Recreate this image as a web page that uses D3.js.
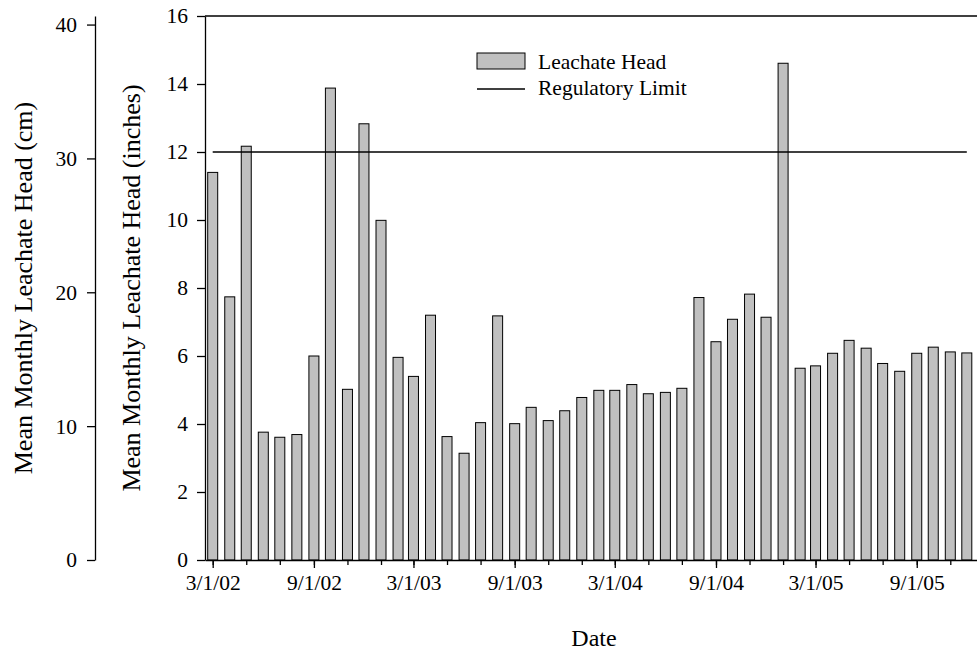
<!DOCTYPE html>
<html lang="en">
<head>
    <meta charset="UTF-8">
    <title>Mean Monthly Leachate Head</title>
    <script src="https://d3js.org/d3.v7.min.js"></script>
    <style>
        body { margin: 0; background: #fff; }
        text { font-family: "Liberation Serif", "Times New Roman", serif; fill: #000; }
        .axis path, .axis line { stroke: #000; stroke-width: 1.3; }
    </style>
</head>
<body>
    <script>
        // monthly means, 3/1/02 .. 12/1/05 (inches)
        const startMonth = [2002, 2];   // year, month index (March)
        const headInches = [
            11.40, 7.74, 12.17, 3.76, 3.61, 3.69, 6.00, 13.88, 5.02, 12.83,
            9.99, 5.96, 5.40, 7.20, 3.63, 3.14, 4.04, 7.18, 4.01, 4.49, 4.10, 4.39,
            4.78, 4.99, 4.99, 5.16, 4.89, 4.93, 5.05, 7.72, 6.42, 7.08, 7.82, 7.14,
            14.61, 5.64, 5.71, 6.08, 6.46, 6.23, 5.78, 5.55, 6.08, 6.26, 6.12, 6.09
        ];
        const regulatoryLimit = 12;
        const inchTicks = [0, 2, 4, 6, 8, 10, 12, 14, 16];
        const cmTicks = [0, 10, 20, 30, 40];
        const majorTicks = ["2002-03-01", "2002-09-01", "2003-03-01", "2003-09-01",
                            "2004-03-01", "2004-09-01", "2005-03-01", "2005-09-01"];

        const data = headInches.map((v, i) => ({
            date: new Date(Date.UTC(startMonth[0], startMonth[1] + i, 1)),
            value: v
        }));

        const w = 977;
        const h = 651;
        const plotLeft = 205, plotRight = 983.3, plotTop = 16, plotBottom = 560;
        const labelSize = 21.5;

        const svg = d3.select("body")
                      .append("svg")
                      .attr("width", w)
                      .attr("height", h);

        const x = d3.scaleUtc()
                    .domain([new Date(Date.UTC(2002, 1, 15)), new Date(Date.UTC(2005, 11, 31))])
                    .range([plotLeft, plotRight]);

        const y = d3.scaleLinear()
                    .domain([0, 16])
                    .range([plotBottom, plotTop]);

        // same height expressed in cm
        const yCm = d3.scaleLinear()
                      .domain([0, 16 * 2.54])
                      .range([plotBottom, plotTop]);

        // bars
        svg.selectAll("rect.bar")
           .data(data)
           .enter()
           .append("rect")
           .attr("class", "bar")
           .attr("x", d => x(d.date) - 5)
           .attr("y", d => y(d.value))
           .attr("width", 10)
           .attr("height", d => plotBottom - y(d.value))
           .attr("fill", "#c0c0c0")
           .attr("stroke", "#000")
           .attr("stroke-width", 1);

        // regulatory limit
        svg.append("line")
           .attr("x1", x(data[0].date))
           .attr("x2", x(data[data.length - 1].date))
           .attr("y1", y(regulatoryLimit))
           .attr("y2", y(regulatoryLimit))
           .attr("stroke", "#000")
           .attr("stroke-width", 1.3);

        // top frame
        svg.append("line")
           .attr("x1", plotLeft).attr("x2", plotRight)
           .attr("y1", plotTop).attr("y2", plotTop)
           .attr("stroke", "#000")
           .attr("stroke-width", 1.3);

        // x axis: minor ticks every 2 months, labelled ticks every 6
        svg.append("g")
           .attr("class", "axis")
           .attr("transform", "translate(0," + plotBottom + ")")
           .call(d3.axisBottom(x)
                   .ticks(d3.utcMonth.every(2))
                   .tickSize(5)
                   .tickSizeOuter(0)
                   .tickFormat(""));

        const fmt = d3.utcFormat("%-m/%-d/%y");
        svg.append("g")
           .attr("class", "axis")
           .attr("transform", "translate(0," + plotBottom + ")")
           .call(d3.axisBottom(x)
                   .tickValues(majorTicks.map(s => new Date(s + "T00:00:00Z")))
                   .tickSize(8)
                   .tickSizeOuter(0)
                   .tickPadding(7)
                   .tickFormat(fmt))
           .call(g => g.select(".domain").remove())
           .selectAll("text")
           .attr("font-size", labelSize)
           .attr("font-family", "Liberation Serif");

        // inches axis
        svg.append("g")
           .attr("class", "axis")
           .attr("transform", "translate(" + plotLeft + ",0)")
           .call(d3.axisLeft(y)
                   .tickValues(inchTicks)
                   .tickSize(8)
                   .tickSizeOuter(0)
                   .tickPadding(9))
           .selectAll("text")
           .attr("font-size", labelSize)
           .attr("font-family", "Liberation Serif");

        // cm axis
        svg.append("g")
           .attr("class", "axis")
           .attr("transform", "translate(95,0)")
           .call(d3.axisLeft(yCm)
                   .tickValues(cmTicks)
                   .tickSize(8)
                   .tickSizeOuter(0)
                   .tickPadding(10))
           .selectAll("text")
           .attr("font-size", labelSize)
           .attr("font-family", "Liberation Serif");

        // axis titles
        svg.append("text")
           .attr("transform", "translate(139.5,288) rotate(-90)")
           .attr("text-anchor", "middle")
           .attr("font-size", 26)
           .text("Mean Monthly Leachate Head (inches)");

        svg.append("text")
           .attr("transform", "translate(31.5,288) rotate(-90)")
           .attr("text-anchor", "middle")
           .attr("font-size", 26)
           .text("Mean Monthly Leachate Head (cm)");

        svg.append("text")
           .attr("x", 594)
           .attr("y", 646)
           .attr("text-anchor", "middle")
           .attr("font-size", 24)
           .text("Date");

        // legend
        const legend = svg.append("g");
        legend.append("rect")
              .attr("x", 477).attr("y", 53)
              .attr("width", 48).attr("height", 16)
              .attr("fill", "#c0c0c0")
              .attr("stroke", "#000")
              .attr("stroke-width", 1);
        legend.append("text")
              .attr("x", 538).attr("y", 69)
              .attr("font-size", labelSize)
              .text("Leachate Head");
        legend.append("line")
              .attr("x1", 477).attr("x2", 525)
              .attr("y1", 89).attr("y2", 89)
              .attr("stroke", "#000")
              .attr("stroke-width", 1.3);
        legend.append("text")
              .attr("x", 538).attr("y", 95)
              .attr("font-size", labelSize)
              .text("Regulatory Limit");
    </script>
</body>
</html>
